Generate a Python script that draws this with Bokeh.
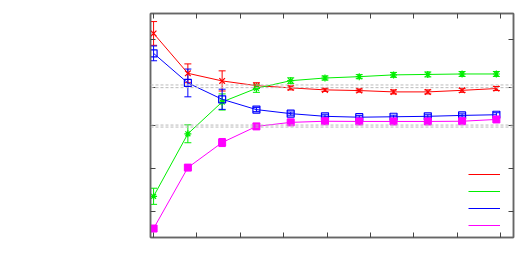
from bokeh.plotting import figure
from bokeh.models import (ColumnDataSource, Whisker, TeeHead, Span, Legend, LegendItem,
                          FixedTicker, LinearAxis, Range1d, CustomJSTickFormatter)
from bokeh.embed import file_html
from bokeh.resources import INLINE

# ---- data ----
xs = list(range(11))
red_y = [9.11, 7.33, 6.99, 6.78, 6.68, 6.59, 6.56, 6.50, 6.50, 6.57, 6.65]
red_e = [0.53, 0.42, 0.45, 0.13, 0.09, 0.07, 0.07, 0.09, 0.09, 0.09, 0.09]
green_y = [1.84, 4.63, 6.05, 6.66, 7.00, 7.12, 7.18, 7.26, 7.28, 7.30, 7.30]
green_e = [0.36, 0.40, 0.36, 0.18, 0.13, 0.09, 0.09, 0.11, 0.11, 0.11, 0.11]
blue_y = [8.22, 6.90, 6.17, 5.71, 5.53, 5.41, 5.37, 5.39, 5.41, 5.45, 5.48]
blue_e = [0.33, 0.62, 0.45, 0.09, 0.07, 0.07, 0.07, 0.07, 0.07, 0.07, 0.09]
mag_y = [0.40, 3.12, 4.24, 4.96, 5.14, 5.19, 5.18, 5.18, 5.18, 5.19, 5.27]
mag_e = [0.05, 0.07, 0.18, 0.05, 0.05, 0.05, 0.05, 0.05, 0.05, 0.05, 0.05]
ref_lines = [6.81, 6.69, 5.02, 4.93]
x_ticks = [0, 1.266, 2.532, 3.798, 5.064, 6.33, 7.596, 8.862, 10.128]
y_ticks = [8.82, 6.71, 4.99, 3.09, 1.18]

p = figure(width=523, height=263, output_backend="svg", toolbar_location=None,
           x_range=Range1d(-0.09, 10.5), y_range=Range1d(0, 10),
           min_border_left=150, min_border_right=10, min_border_top=13,
           min_border_bottom=26, x_axis_location=None, y_axis_location=None)
p.grid.visible = False
p.outline_line_color = "#666666"
p.outline_line_width = 1.5

def mk_axis(ticks):
    return LinearAxis(ticker=FixedTicker(ticks=ticks),
                      formatter=CustomJSTickFormatter(code="return ''"),
                      major_label_standoff=0, major_tick_out=0, major_tick_in=5,
                      minor_tick_out=0, minor_tick_in=0, axis_line_color="#666666",
                      axis_line_width=1.5, major_tick_line_color="#444444")

p.add_layout(mk_axis(x_ticks), "below")
p.add_layout(mk_axis(x_ticks), "above")
p.add_layout(mk_axis(y_ticks), "left")
p.add_layout(mk_axis(y_ticks), "right")

for v in ref_lines:
    p.add_layout(Span(location=v, dimension="width", line_color="#bbbbbb",
                      line_dash="3 2", line_width=1))

series = [
    (red_y, red_e, "#ff0000", "x", 8),
    (green_y, green_e, "#00ee00", "asterisk", 7),
    (blue_y, blue_e, "#0000ff", "square", 7),
    (mag_y, mag_e, "#ff00ff", "square_filled", 7),
]
items = []
for ys, es, col, mk, sz in series:
    src = ColumnDataSource(dict(x=xs, y=ys,
                                upper=[a + b for a, b in zip(ys, es)],
                                lower=[a - b for a, b in zip(ys, es)]))
    ln = p.line("x", "y", source=src, line_color=col, line_width=1)
    p.add_layout(Whisker(source=src, base="x", upper="upper", lower="lower",
                         line_color=col, line_width=1,
                         upper_head=TeeHead(size=7, line_color=col, line_width=1),
                         lower_head=TeeHead(size=7, line_color=col, line_width=1)))
    if mk == "square_filled":
        p.scatter("x", "y", source=src, marker="square", size=sz, fill_color=col,
                  line_color=col)
    elif mk == "square":
        p.scatter("x", "y", source=src, marker="square", size=sz, fill_color=None,
                  line_color=col, line_width=1.2)
    else:
        p.scatter("x", "y", source=src, marker=mk, size=sz, line_color=col, line_width=1.2)
    items.append(LegendItem(label="", renderers=[ln]))

leg = Legend(items=items, location=(318, 5), glyph_width=32, glyph_height=14,
             label_height=14, label_width=0, label_standoff=0, spacing=3, padding=0,
             margin=0, border_line_color=None, background_fill_alpha=0)
p.add_layout(leg)

open("out.html", "w").write(file_html(p, INLINE))
